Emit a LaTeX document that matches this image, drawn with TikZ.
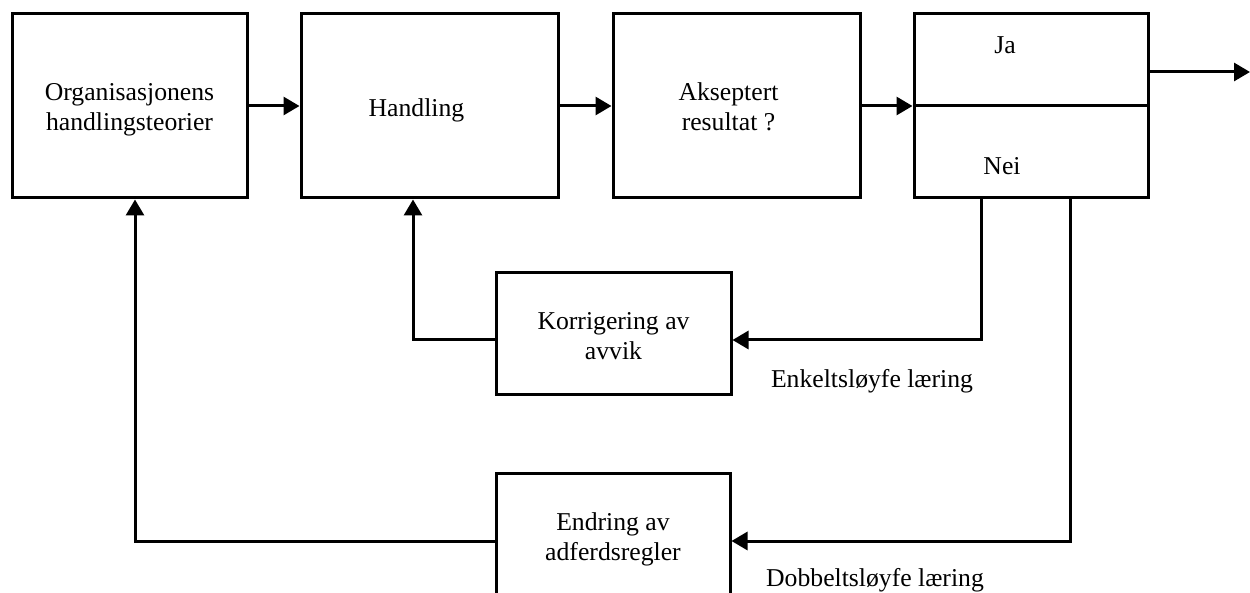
\documentclass[tikz,border=0pt]{standalone}
\usepackage{fontspec}
\setmainfont{Liberation Serif}
\usetikzlibrary{arrows.meta}
\begin{document}
\begin{tikzpicture}[x=1pt,y=-1pt,
  box/.style={draw,line width=3pt,rectangle,inner sep=0pt},
  lbl/.style={inner sep=0pt,align=center,font=\fontsize{25.7}{30}\selectfont},
  arr/.style={line width=3pt,-{Triangle[length=16pt,width=18pt]}},
  ln/.style={line width=3pt}]
\useasboundingbox (0,0) rectangle (1250,593);
\node[box,minimum width=235pt,minimum height=184pt] (b1) at (129.5,106) {};
\node[box,minimum width=257pt,minimum height=184pt] (b2) at (429.5,106) {};
\node[box,minimum width=247pt,minimum height=184pt] (b3) at (736.5,106) {};
\node[box,minimum width=234pt,minimum height=184pt] (b4) at (1031,106) {};
\node[box,minimum width=235pt,minimum height=121pt] (k) at (613.5,333.5) {};
\node[box,minimum width=234pt,minimum height=136pt] (e) at (613,541) {};
\draw[ln] (b4.west) -- (b4.east);
\node[lbl] (t1) at ([yshift=-4pt]b1.center) {Organisasjonens\\handlingsteorier};
\node[lbl] (t2) at ([xshift=-13pt,yshift=-4pt]b2.center) {Handling};
\node[lbl] (t3) at ([xshift=-8pt,yshift=-1pt]b3.center) {Akseptert\\resultat ?};
\node[lbl] (ja) at (1005,45) {Ja};
\node[lbl] (nei) at (1002,166) {Nei};
\node[lbl] (tk) at ([yshift=-3pt]k.center) {Korrigering av\\avvik};
\node[lbl] (te) at ([yshift=2pt]e.center) {Endring av\\adferdsregler};
\node[lbl] (enk) at (872,381) {Enkeltsløyfe læring};
\node[lbl] (dob) at (875,580) {Dobbeltsløyfe læring};
\coordinate (out) at (1250,72);
\draw[arr] (b1) -- (b2);
\draw[arr] (b2) -- (b3);
\draw[arr] (b3) -- (b4);
\draw[arr] (b4.east |- out) -- (out);
\draw[arr] ([xshift=-50pt]b4.south) |- ([yshift=-6.5pt]k.east);
\draw[arr] ([yshift=-6.5pt]k.west) -| ([xshift=-16.5pt]b2.south);
\draw[arr] ([xshift=39pt]b4.south) |- (e.east);
\draw[arr] (e.west) -| ([xshift=5.5pt]b1.south);
\end{tikzpicture}
\end{document}
